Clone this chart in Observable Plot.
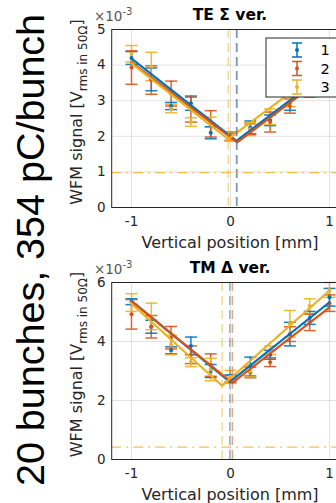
<!DOCTYPE html>
<html>
<head>
<meta charset="utf-8">
<script src="https://cdn.jsdelivr.net/npm/d3@7"></script>
<script src="https://cdn.jsdelivr.net/npm/@observablehq/plot@0.6"></script>
<style>
  html, body { margin: 0; padding: 0; background: #fff; }
  #fig { position: relative; width: 336px; height: 503px; overflow: hidden; background: #fff; }
  #fig svg { max-width: none !important; position: absolute; left: 0; }
  #side {
    position: absolute; left: 31px; top: 249.5px;
    transform: translate(-50%, -50%) rotate(-90deg);
    font-family: "Liberation Sans", Arial, sans-serif; font-size: 39.5px; line-height: 1;
    white-space: nowrap; color: #000;
  }
</style>
</head>
<body>
<div id="fig"><div id="side">20 bunches, 354 pC/bunch</div></div>
<script>
// Beam positions scanned (mm) and the three measurement sets
const positions = [-1, -0.8, -0.6, -0.4, -0.2, 0, 0.2, 0.4, 0.6, 0.8, 1];
const seriesNames = ["1", "2", "3"];
const colors = ["#0072BD", "#D95319", "#EDB120"];
const xTicks = [-1, 0, 1];

// TE Σ vertical: WFM signal (×1e-3 V rms in 50 Ω), mean and error
const teMean1 = [4.20, 3.60, 2.85, 2.93, 2.10, 2.00, 2.25, 2.45, 2.95, 3.40, 3.90];
const teErr1  = [0.18, 0.32, 0.10, 0.20, 0.17, 0.12, 0.18, 0.15, 0.22, 0.25, 0.25];
const teMean2 = [3.93, 3.58, 3.20, 2.75, 2.35, 1.98, 2.20, 2.40, 2.85, 3.40, 3.75];
const teErr2  = [0.47, 0.40, 0.35, 0.35, 0.37, 0.10, 0.15, 0.28, 0.20, 0.30, 0.30];
const teMean3 = [4.32, 3.96, 2.78, 2.40, 2.40, 2.00, 2.20, 2.55, 3.05, 3.55, 4.00];
const teErr3  = [0.23, 0.40, 0.12, 0.12, 0.14, 0.12, 0.18, 0.22, 0.22, 0.25, 0.25];
// V-shaped fits: value at -1 mm, centre position, minimum, value at +1 mm
const teFitLeft   = [4.18, 4.08, 4.05];
const teFitCentre = [0.06, 0.068, -0.023];
const teFitMin    = [1.87, 1.83, 1.92];
const teFitRight  = [3.85, 3.78, 4.05];
const teNoise = 0.98;
const teYTicks = [0, 1, 2, 3, 4, 5];

// TM Δ vertical
const tmMean1 = [5.35, 4.50, 3.70, 3.85, 3.00, 2.75, 3.15, 3.55, 4.25, 4.80, 5.50];
const tmErr1  = [0.10, 0.22, 0.12, 0.30, 0.22, 0.12, 0.32, 0.15, 0.40, 0.22, 0.30];
const tmMean2 = [4.92, 4.50, 4.13, 3.55, 3.20, 2.72, 2.95, 3.30, 4.25, 4.65, 5.30];
const tmErr2  = [0.50, 0.38, 0.38, 0.30, 0.38, 0.12, 0.18, 0.15, 0.25, 0.28, 0.28];
const tmMean3 = [5.32, 4.85, 3.88, 3.30, 3.05, 2.80, 3.00, 3.70, 4.60, 5.20, 5.75];
const tmErr3  = [0.30, 0.45, 0.33, 0.15, 0.38, 0.22, 0.20, 0.15, 0.45, 0.25, 0.25];
const tmFitLeft   = [5.38, 5.36, 5.28];
const tmFitCentre = [-0.007, 0.018, -0.085];
const tmFitMin    = [2.63, 2.60, 2.50];
const tmFitRight  = [5.33, 5.16, 5.73];
const tmNoise = 0.42;
const tmYTicks = [0, 2, 4, 6];

const axisColor = "#262626";
const font = "DejaVu Sans, sans-serif";

// horizontal cap for error bars, half-width = r
const capSymbol = {
  draw(context, size) {
    const w = Math.sqrt(size / Math.PI);
    context.moveTo(-w, 0);
    context.lineTo(w, 0);
  }
};

function drawPanel(cfg) {
  const errRows = [];
  cfg.means.forEach((m, k) => m.forEach((v, j) => errRows.push({
    x: positions[j], y: v, lo: v - cfg.errs[k][j], hi: v + cfg.errs[k][j], s: seriesNames[k]
  })));
  const fitRows = [];
  cfg.fitCentre.forEach((c, k) => {
    fitRows.push({x: -1, y: cfg.fitLeft[k], s: seriesNames[k]});
    fitRows.push({x: c, y: cfg.fitMin[k], s: seriesNames[k]});
    fitRows.push({x: 1, y: cfg.fitRight[k], s: seriesNames[k]});
  });
  const centreRows = cfg.fitCentre.map((c, k) => ({x: c, s: seriesNames[k]}));

  const W = 380, mL = 111.2, mR = 31.2;
  const chart = Plot.plot({
    width: W, height: cfg.height,
    marginLeft: mL, marginRight: mR, marginTop: cfg.mt, marginBottom: cfg.mb,
    style: {fontFamily: font, fontSize: "13.5px", color: axisColor, background: "transparent", maxWidth: "none", overflow: "visible"},
    x: {domain: [-1.2, 1.2]},
    y: {domain: [0, cfg.yMax]},
    color: {domain: seriesNames, range: colors},
    marks: [
      Plot.gridX(xTicks, {stroke: axisColor, strokeOpacity: 0.13, strokeWidth: 1}),
      Plot.gridY(cfg.yTicks, {stroke: axisColor, strokeOpacity: 0.13, strokeWidth: 1}),
      Plot.ruleX(errRows, {x: "x", y1: "lo", y2: "hi", stroke: "s", strokeWidth: 1.5, strokeOpacity: 0.9}),
      Plot.dot(errRows, {x: "x", y: "lo", symbol: capSymbol, r: 6, fill: "none", stroke: "s", strokeWidth: 1.5, strokeOpacity: 0.9}),
      Plot.dot(errRows, {x: "x", y: "hi", symbol: capSymbol, r: 6, fill: "none", stroke: "s", strokeWidth: 1.5, strokeOpacity: 0.9}),
      Plot.dot(errRows, {x: "x", y: "y", r: 2, fill: "s", stroke: null}),
      Plot.line(fitRows, {x: "x", y: "y", z: "s", stroke: "s", strokeWidth: 2.2}),
      Plot.ruleX(centreRows, {x: "x", stroke: "s", strokeWidth: 1.2, strokeOpacity: 0.6, strokeDasharray: "9,5"}),
      Plot.ruleY([cfg.noise], {stroke: colors[2], strokeWidth: 1.3, strokeOpacity: 0.8, strokeDasharray: "10,5,2,5"}),
      Plot.axisX(xTicks, {tickSize: 0, tickPadding: 9, tickFormat: d => String(d), label: null, fontSize: 13.5}),
      Plot.axisY(cfg.yTicks, {tickSize: 0, tickPadding: 6, tickFormat: d => String(d), label: null, fontSize: 13.5}),
      Plot.frame({stroke: axisColor, strokeWidth: 1})
    ]
  });
  chart.style.top = cfg.top + "px";
  document.getElementById("fig").appendChild(chart);

  const svg = d3.select(chart);
  const cx = (mL + (W - mR)) / 2;

  // title
  svg.append("text").attr("x", cx).attr("y", cfg.mt - 9)
    .attr("text-anchor", "middle").attr("font-family", font).attr("font-size", 15.5)
    .attr("font-weight", "bold").attr("fill", "#000").text(cfg.title);

  // exponent
  const ex = svg.append("text").attr("x", mL + 2).attr("y", cfg.mt - 8)
    .attr("font-family", font).attr("font-size", 13.5).attr("fill", "#555");
  ex.append("tspan").text("×10");
  ex.append("tspan").attr("dy", -6).attr("font-size", 10).text("-3");

  // x label
  svg.append("text").attr("x", cx).attr("y", cfg.height - cfg.mb + 41)
    .attr("text-anchor", "middle").attr("font-family", font).attr("font-size", 16)
    .attr("fill", axisColor).text("Vertical position [mm]");

  // y label with subscript
  const plotMid = (cfg.mt + cfg.height - cfg.mb) / 2 - 6;
  const yl = svg.append("text").attr("transform", `translate(82,${plotMid}) rotate(-90)`)
    .attr("text-anchor", "middle").attr("font-family", font).attr("font-size", 16).attr("fill", axisColor);
  yl.append("tspan").text("WFM signal [V");
  yl.append("tspan").attr("dy", 4.5).attr("font-size", 12).text("rms in 50Ω");
  yl.append("tspan").attr("dy", -4.5).text("]");

  if (cfg.legend) {
    const g = svg.append("g");
    g.append("rect").attr("x", 266).attr("y", 38).attr("width", 90).attr("height", 59)
      .attr("fill", "#fff").attr("stroke", axisColor).attr("stroke-width", 1);
    const rowsY = [50, 68.5, 87];
    seriesNames.forEach((name, k) => {
      const yy = rowsY[k], x0 = 297;
      g.append("line").attr("x1", x0).attr("x2", x0).attr("y1", yy - 7).attr("y2", yy + 7)
        .attr("stroke", colors[k]).attr("stroke-width", 1.5);
      [yy - 7, yy + 7].forEach(cy => g.append("line").attr("x1", x0 - 5).attr("x2", x0 + 5)
        .attr("y1", cy).attr("y2", cy).attr("stroke", colors[k]).attr("stroke-width", 1.5));
      g.append("circle").attr("cx", x0).attr("cy", yy).attr("r", 2).attr("fill", colors[k]);
      g.append("text").attr("x", 325).attr("y", yy + 5).attr("font-family", font)
        .attr("font-size", 14.5).attr("fill", "#000").text(name);
    });
  }
}

drawPanel({
  top: 0, height: 250, mt: 29, mb: 43, yMax: 5, yTicks: teYTicks,
  means: [teMean1, teMean2, teMean3], errs: [teErr1, teErr2, teErr3],
  fitLeft: teFitLeft, fitCentre: teFitCentre, fitMin: teFitMin, fitRight: teFitRight,
  noise: teNoise, title: "TE Σ ver.", legend: true
});
drawPanel({
  top: 250, height: 253, mt: 32, mb: 44, yMax: 6, yTicks: tmYTicks,
  means: [tmMean1, tmMean2, tmMean3], errs: [tmErr1, tmErr2, tmErr3],
  fitLeft: tmFitLeft, fitCentre: tmFitCentre, fitMin: tmFitMin, fitRight: tmFitRight,
  noise: tmNoise, title: "TM Δ ver.", legend: false
});
</script>
</body>
</html>
